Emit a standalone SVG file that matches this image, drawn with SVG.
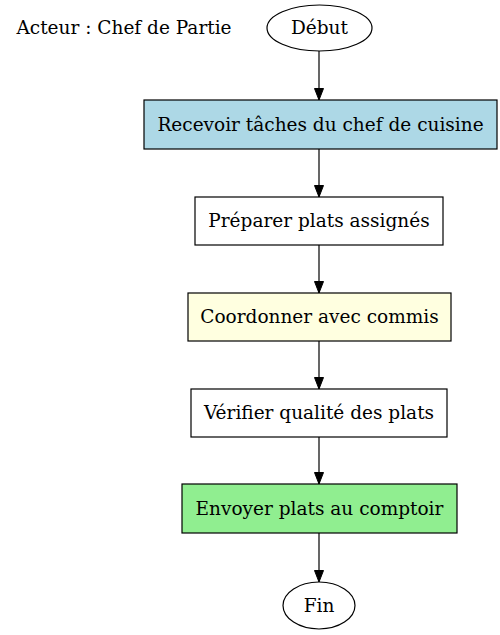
<svg xmlns="http://www.w3.org/2000/svg" width="500" height="635" viewBox="0 0 500 635">
<defs>
<marker id="arr" markerWidth="12" markerHeight="10" refX="12" refY="5" orient="auto" markerUnits="userSpaceOnUse">
<path d="M0.5,0.5 L12,5 L0.5,9.5 Z" fill="#000" stroke="#000" stroke-width="1"/>
</marker>
</defs>
<style>
text{font-family:"DejaVu Serif","Liberation Serif",serif;font-size:18.5px;fill:#000;text-anchor:middle}
.n{stroke:#000;stroke-width:1.2}
.e{stroke:#000;stroke-width:1.2;fill:none;marker-end:url(#arr)}
</style>
<rect width="500" height="635" fill="#fff"/>
<text x="124" y="34">Acteur : Chef de Partie</text>
<g id="connectors">
<line class="e" x1="319" y1="51" x2="319" y2="100"/>
<line class="e" x1="319" y1="149" x2="319" y2="197"/>
<line class="e" x1="319" y1="245" x2="319" y2="293"/>
<line class="e" x1="319" y1="341" x2="319" y2="389"/>
<line class="e" x1="319" y1="437" x2="319" y2="484"/>
<line class="e" x1="319" y1="533" x2="319" y2="582"/>
</g>
<g id="debut"><ellipse class="n" cx="319.5" cy="28" rx="52.5" ry="23" fill="#fff"/><text x="319.5" y="34">Début</text></g>
<g id="recevoir"><rect class="n" x="144" y="100" width="353" height="49" fill="#add8e6"/><text x="320.5" y="131">Recevoir tâches du chef de cuisine</text></g>
<g id="preparer"><rect class="n" x="195" y="197" width="248" height="48" fill="#fff"/><text x="319" y="227">Préparer plats assignés</text></g>
<g id="coordonner"><rect class="n" x="188" y="293" width="263" height="48" fill="#ffffe0"/><text x="319.5" y="323">Coordonner avec commis</text></g>
<g id="verifier"><rect class="n" x="191" y="389" width="256" height="48" fill="#fff"/><text x="319" y="419">Vérifier qualité des plats</text></g>
<g id="envoyer"><rect class="n" x="182" y="484" width="275" height="49" fill="#90ee90"/><text x="319.5" y="515">Envoyer plats au comptoir</text></g>
<g id="fin"><ellipse class="n" cx="319" cy="605.5" rx="36" ry="23.5" fill="#fff"/><text x="319" y="612">Fin</text></g>
</svg>
